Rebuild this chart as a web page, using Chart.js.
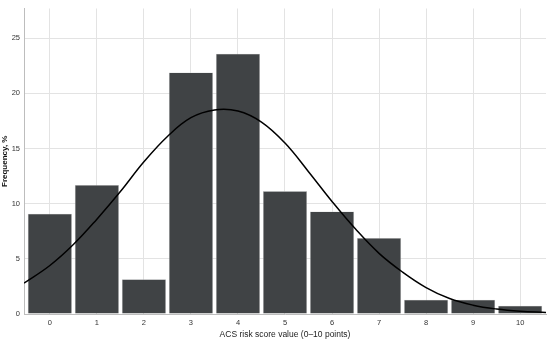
<!DOCTYPE html>
<html>
<head>
<meta charset="utf-8">
<script src="https://cdn.jsdelivr.net/npm/chart.js@4"></script>
<style>
  html, body { margin: 0; padding: 0; background: #fff; }
  #wrap { width: 550px; height: 340px; }
</style>
</head>
<body>
<div id="wrap"><canvas id="histChart"></canvas></div>
<script>
// ACS risk score histogram + fitted normal curve
const scores = [0, 1, 2, 3, 4, 5, 6, 7, 8, 9, 10];
const freqPct = [9.1, 11.7, 3.15, 21.9, 23.6, 11.15, 9.3, 6.9, 1.3, 1.3, 0.75];

const curveX = [-0.55, 0, 0.5, 1, 1.5, 2, 2.5, 3, 3.5, 4, 4.5, 5, 5.5, 6, 6.5, 7, 7.5, 8, 8.5, 9, 9.5, 10, 10.55];
const curveY = [2.8, 4.4, 6.3, 8.6, 11.1, 13.8, 16.1, 17.8, 18.5, 18.4, 17.4, 15.5, 12.9, 10.2, 7.7, 5.5, 3.8, 2.4, 1.4, 0.8, 0.45, 0.25, 0.14];

const xTicks = [0, 1, 2, 3, 4, 5, 6, 7, 8, 9, 10];
const yTicks = [0, 5, 10, 15, 20, 25];

const ctx = document.getElementById('histChart').getContext('2d');
new Chart(ctx, {
    data: {
        datasets: [{
            type: 'line',
            data: curveX.map((x, i) => ({ x: x, y: curveY[i] })),
            borderColor: '#000',
            borderWidth: 1.5,
            pointRadius: 0,
            fill: false,
            tension: 0.4,
            order: 0
        }, {
            type: 'bar',
            data: scores.map((s, i) => ({ x: s, y: freqPct[i] })),
            backgroundColor: '#404345',
            borderColor: '#c8c9ca',
            borderWidth: 0.6,
            categoryPercentage: 1,
            barPercentage: 0.94,
            order: 1
        }]
    },
    options: {
        responsive: true,
        maintainAspectRatio: false,
        animation: false,
        layout: { padding: { top: 5, right: 4, left: 0, bottom: 0 } },
        plugins: { legend: { display: false }, tooltip: { enabled: false } },
        scales: {
            x: {
                type: 'linear',
                offset: false,
                min: -0.55,
                max: 10.55,
                afterBuildTicks: s => { s.ticks = xTicks.map(v => ({ value: v })); },
                afterFit: s => { s.height = 26; },
                grid: { color: '#e3e3e3', lineWidth: 1, drawTicks: false, offset: false },
                border: { color: '#bdbdbd' },
                ticks: { color: '#333', font: { family: 'Liberation Sans', size: 7.5 }, padding: 4, autoSkip: false, maxRotation: 0 },
                title: { display: true, text: 'ACS risk score value (0–10 points)', color: '#222',
                         font: { family: 'Liberation Sans', size: 8.5 }, padding: { top: 2, bottom: 0 } }
            },
            y: {
                min: 0,
                max: 27.7,
                afterBuildTicks: s => { s.ticks = yTicks.map(v => ({ value: v })); },
                afterFit: s => { s.width = 24; },
                grid: { color: '#e3e3e3', lineWidth: 1, drawTicks: false },
                border: { color: '#bdbdbd' },
                ticks: { color: '#333', font: { family: 'Liberation Sans', size: 7.5 }, padding: 4 },
                title: { display: true, text: 'Frequency, %', color: '#111',
                         font: { family: 'Liberation Sans', size: 8, weight: 'bold' }, padding: 0 }
            }
        }
    }
});
</script>
</body>
</html>
